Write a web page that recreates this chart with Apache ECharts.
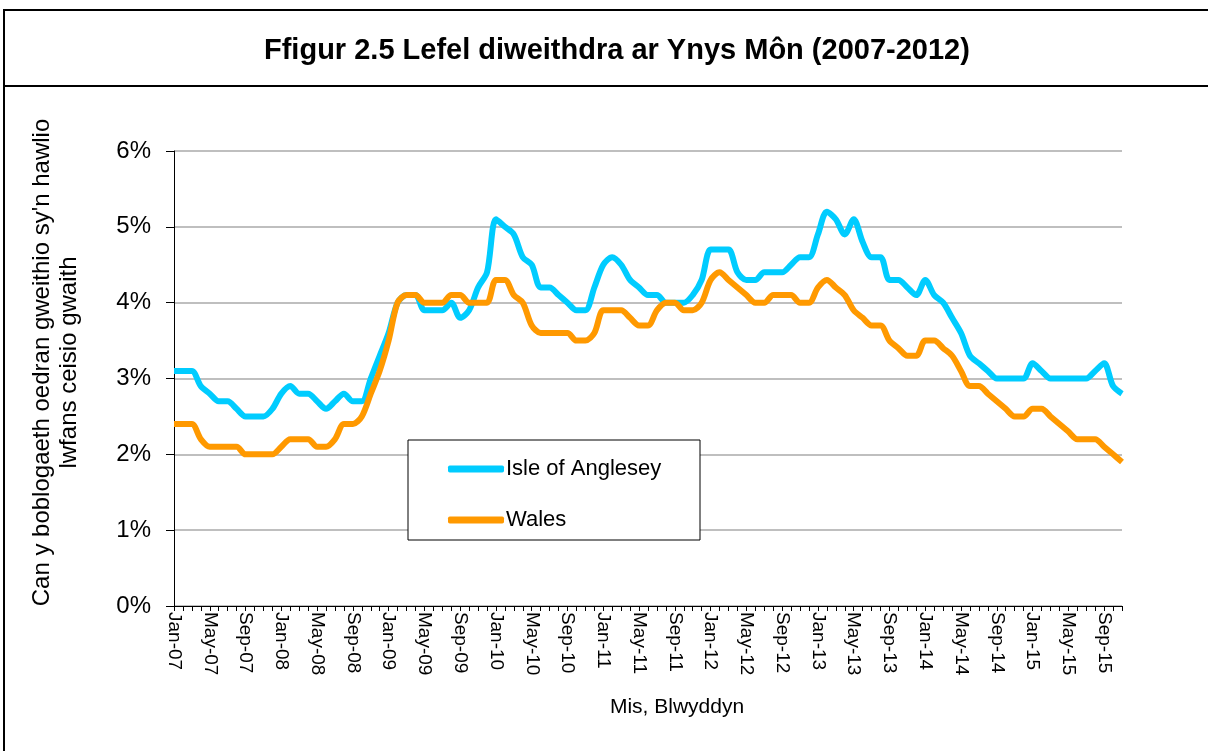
<!DOCTYPE html>
<html>
<head>
<meta charset="utf-8">
<title>Ffigur 2.5</title>
<script src="https://cdn.jsdelivr.net/npm/echarts@6/dist/echarts.min.js"></script>
<style>
  html, body { margin: 0; padding: 0; background: #fff; }
  #chart { width: 1208px; height: 751px; }
</style>
</head>
<body>
<div id="chart"></div>
<script>
// monthly values, Jan-07 .. Nov-15 (%)
const monthNames = ['Jan', 'Feb', 'Mar', 'Apr', 'May', 'Jun', 'Jul', 'Aug', 'Sep', 'Oct', 'Nov', 'Dec']
const years = ['07', '08', '09', '10', '11', '12', '13', '14', '15']

const anglesey = [
  3.1, 3.1, 3.1, 2.9, 2.8, 2.7, 2.7, 2.6, 2.5, 2.5, 2.5, 2.6,
  2.8, 2.9, 2.8, 2.8, 2.7, 2.6, 2.7, 2.8, 2.7, 2.7, 3.0, 3.3,
  3.6, 4.0, 4.1, 4.1, 3.9, 3.9, 3.9, 4.0, 3.8, 3.9, 4.2, 4.4,
  5.1, 5.0, 4.9, 4.6, 4.5, 4.2, 4.2, 4.1, 4.0, 3.9, 3.9, 4.2,
  4.5, 4.6, 4.5, 4.3, 4.2, 4.1, 4.1, 4.0, 4.0, 4.0, 4.1, 4.3,
  4.7, 4.7, 4.7, 4.4, 4.3, 4.3, 4.4, 4.4, 4.4, 4.5, 4.6, 4.6,
  4.9, 5.2, 5.1, 4.9, 5.1, 4.8, 4.6, 4.6, 4.3, 4.3, 4.2, 4.1,
  4.3, 4.1, 4.0, 3.8, 3.6, 3.3, 3.2, 3.1, 3.0, 3.0, 3.0, 3.0,
  3.2, 3.1, 3.0, 3.0, 3.0, 3.0, 3.0, 3.1, 3.2, 2.9, 2.8
]

const wales = [
  2.4, 2.4, 2.4, 2.2, 2.1, 2.1, 2.1, 2.1, 2.0, 2.0, 2.0, 2.0,
  2.1, 2.2, 2.2, 2.2, 2.1, 2.1, 2.2, 2.4, 2.4, 2.5, 2.8, 3.1,
  3.5, 4.0, 4.1, 4.1, 4.0, 4.0, 4.0, 4.1, 4.1, 4.0, 4.0, 4.0,
  4.3, 4.3, 4.1, 4.0, 3.7, 3.6, 3.6, 3.6, 3.6, 3.5, 3.5, 3.6,
  3.9, 3.9, 3.9, 3.8, 3.7, 3.7, 3.9, 4.0, 4.0, 3.9, 3.9, 4.0,
  4.3, 4.4, 4.3, 4.2, 4.1, 4.0, 4.0, 4.1, 4.1, 4.1, 4.0, 4.0,
  4.2, 4.3, 4.2, 4.1, 3.9, 3.8, 3.7, 3.7, 3.5, 3.4, 3.3, 3.3,
  3.5, 3.5, 3.4, 3.3, 3.1, 2.9, 2.9, 2.8, 2.7, 2.6, 2.5, 2.5,
  2.6, 2.6, 2.5, 2.4, 2.3, 2.2, 2.2, 2.2, 2.1, 2.0, 1.9
]

const months = []
years.forEach(y => monthNames.forEach(m => months.push(m + '-' + y)))
months.length = anglesey.length

const chart = echarts.init(document.getElementById('chart'))
const font = 'Liberation Sans, Arial, sans-serif'

chart.setOption({
  animation: false,
  textStyle: { fontFamily: font, color: '#000' },
  title: {
    text: 'Ffigur 2.5 Lefel diweithdra ar Ynys Môn (2007-2012)',
    left: 259,
    top: 31,
    textStyle: { fontSize: 29, fontWeight: 'bold', color: '#000', fontFamily: font }
  },
  graphic: [
    { type: 'rect', shape: { x: 4, y: 10, width: 1230, height: 780 }, style: { fill: 'none', stroke: '#000', lineWidth: 2 }, z: 10 },
    { type: 'line', shape: { x1: 4, y1: 86, x2: 1230, y2: 86 }, style: { stroke: '#000', lineWidth: 2 }, z: 10 },
    { type: 'rect', shape: { x: 408, y: 440, width: 292, height: 100 }, style: { fill: '#fff', stroke: '#000', lineWidth: 1 }, z: 3 }
  ],
  legend: {
    orient: 'vertical',
    left: 443,
    top: 453,
    itemGap: 29,
    itemWidth: 56,
    itemHeight: 7,
    icon: 'roundRect',
    z: 5,
    textStyle: { fontSize: 22, color: '#000', fontFamily: font, padding: [0, 0, 0, -3] },
    data: ['Isle of Anglesey', 'Wales']
  },
  grid: { left: 174, right: 86, top: 151, bottom: 145 },
  xAxis: {
    type: 'category',
    boundaryGap: false,
    data: months,
    name: 'Mis, Blwyddyn',
    nameLocation: 'middle',
    nameGap: 91,
    nameTextStyle: { fontSize: 21, color: '#000', padding: [0, 0, 0, 58] },
    axisLine: { lineStyle: { color: '#000', width: 1 } },
    axisTick: { interval: 0, length: 5, lineStyle: { color: '#000' } },
    axisLabel: { interval: 3, rotate: -90, fontSize: 19, color: '#000', margin: 6 },
    splitLine: { show: false }
  },
  yAxis: {
    type: 'value',
    min: 0,
    max: 6,
    interval: 1,
    name: "Can y boblogaeth oedran gweithio sy'n hawlio\nlwfans ceisio gwaith",
    nameLocation: 'middle',
    nameGap: 91,
    nameTextStyle: { fontSize: 24, color: '#000', lineHeight: 27, padding: [0, 0, 0, 32] },
    axisLine: { show: true, lineStyle: { color: '#000', width: 1 } },
    axisTick: { show: true, length: 8, lineStyle: { color: '#000' } },
    axisLabel: { formatter: '{value}%', fontSize: 24, color: '#000', margin: 23 },
    splitLine: { lineStyle: { color: '#BFBFBF', width: 2 } }
  },
  series: [
    {
      name: 'Isle of Anglesey',
      type: 'line',
      data: anglesey,
      smooth: 0.3,
      showSymbol: false,
      symbol: 'none',
      color: '#00CCFF',
      lineStyle: { width: 6, color: '#00CCFF' }
    },
    {
      name: 'Wales',
      type: 'line',
      data: wales,
      smooth: 0.3,
      showSymbol: false,
      symbol: 'none',
      color: '#FF9900',
      lineStyle: { width: 6, color: '#FF9900' }
    }
  ]
})
</script>
</body>
</html>
